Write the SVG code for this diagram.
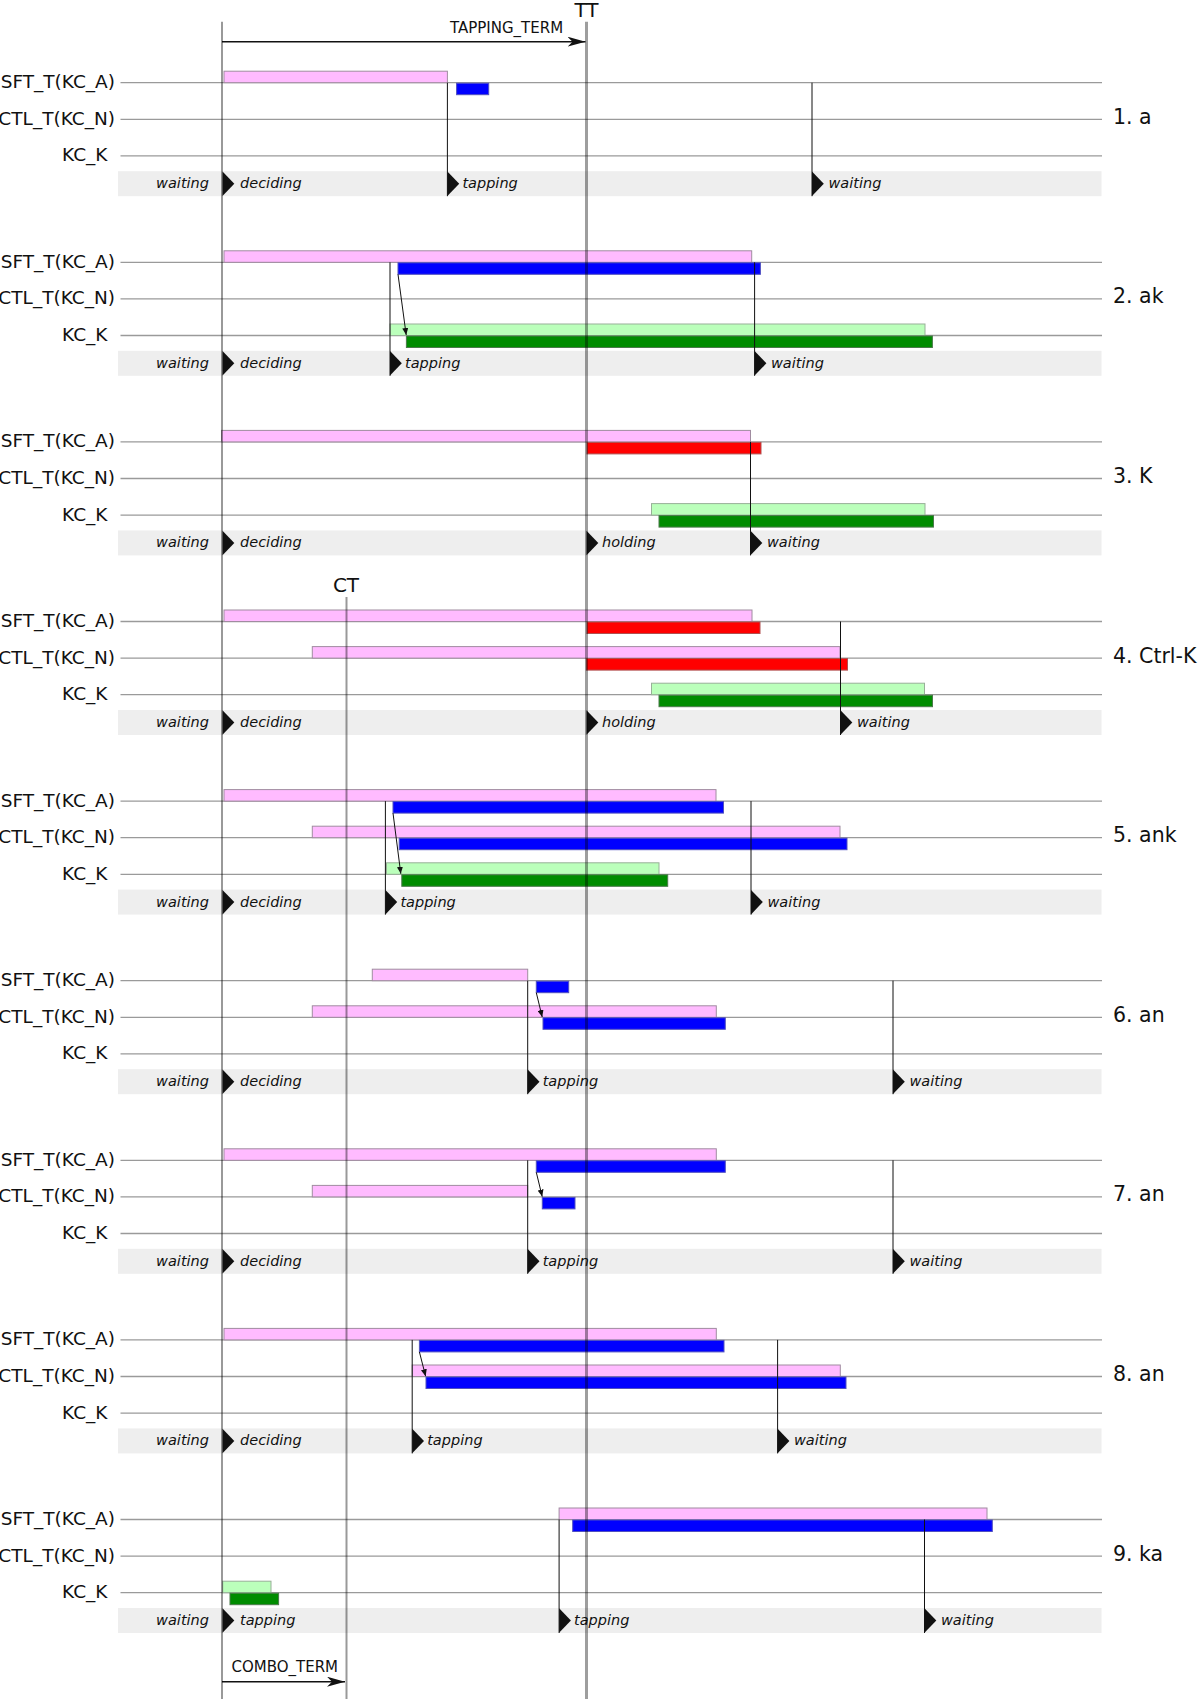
<svg xmlns="http://www.w3.org/2000/svg" width="1200" height="1699" viewBox="0 0 1200 1699">
<style>
.row{stroke:#9a9a9a;stroke-width:1.3}
.band{fill:#eeeeee}
.lbl{font-family:"DejaVu Sans",Verdana,sans-serif;font-size:18.5px;text-anchor:end;fill:#111}
.ttl{font-family:"DejaVu Sans",Verdana,sans-serif;font-size:20px;fill:#111}
.pl{font-family:"DejaVu Sans",Verdana,sans-serif;font-size:20.5px;fill:#111}
.st{font-family:"DejaVu Sans",Verdana,sans-serif;font-style:italic;font-size:14.5px;fill:#111}
.term{font-family:"DejaVu Sans",Verdana,sans-serif;font-size:15px;fill:#111}
.pk{fill:#ffbbff;stroke:#a08ca0;stroke-width:1}
.bl{fill:#0000ff;stroke:#5050c0;stroke-width:1}
.rd{fill:#ff0000;stroke:#b05050;stroke-width:1}
.lg{fill:#bbffbb;stroke:#98b098;stroke-width:1}
.dg{fill:#008c00;stroke:#4a7a4a;stroke-width:1}
.vl{stroke:#111;stroke-width:1}
.mk{fill:#111}
.ar{stroke:#111;stroke-width:1;marker-end:url(#ah)}
.guide{stroke:#000;stroke-opacity:0.4;stroke-width:2;fill:none}
.tt{stroke:#000;stroke-opacity:0.38;stroke-width:3;fill:none}
.tarr{stroke:#111;stroke-width:1.5;marker-end:url(#big)}
</style>
<defs>
<marker id="ah" markerUnits="userSpaceOnUse" markerWidth="8" markerHeight="6" refX="7" refY="3" orient="auto"><path d="M0,0 L7,3 L0,6 z" fill="#111"/></marker>
<marker id="big" markerUnits="userSpaceOnUse" markerWidth="19" markerHeight="11" refX="18" refY="5" orient="auto"><path d="M0,0 L18,5 L0,10 L5,5 z" fill="#111"/></marker>
<g id="rows">
<rect class="band" x="118" y="88.5" width="983.5" height="25"/>
<line class="row" x1="120.5" y1="0" x2="1102" y2="0"/>
<line class="row" x1="120.5" y1="36.6" x2="1102" y2="36.6"/>
<line class="row" x1="120.5" y1="73.2" x2="1102" y2="73.2"/>
<text class="lbl" x="115" y="5.5">SFT_T(KC_A)</text>
<text class="lbl" x="115" y="42.1">CTL_T(KC_N)</text>
<text class="lbl" x="107.5" y="78.7">KC_K</text>
<text class="st" x="209" y="105.5" text-anchor="end">waiting</text>
</g>
<path id="tri" class="mk" d="M0,88.8 L11.8,101 L0,113.3 z"/>
</defs>

<g id="panel1" transform="translate(0,82.7)">
<use href="#rows"/>
<rect class="pk" x="224" y="-11.5" width="223.4" height="11.5"/>
<rect class="bl" x="456.6" y="0.5" width="32.1" height="11.5"/>
<line class="vl" x1="447.4" y1="0" x2="447.4" y2="113.5"/>
<line class="vl" x1="812" y1="0" x2="812" y2="113.5"/>
<use href="#tri" x="222.5"/><use href="#tri" x="447.4"/><use href="#tri" x="812"/>
<text class="st" x="240" y="105.5">deciding</text>
<text class="st" x="462.4" y="105.5">tapping</text>
<text class="st" x="828.5" y="105.5">waiting</text>
<text class="pl" x="1113" y="41">1. a</text>
</g>

<g id="panel2" transform="translate(0,262.3)">
<use href="#rows"/>
<rect class="pk" x="224" y="-11.5" width="527.7" height="11.5"/>
<rect class="bl" x="398" y="0.5" width="362.4" height="11.5"/>
<rect class="lg" x="390" y="61.7" width="535" height="11.5"/>
<rect class="dg" x="406.4" y="73.7" width="526" height="11.5"/>
<line class="vl" x1="390" y1="0" x2="390" y2="113.5"/>
<line class="vl" x1="754.6" y1="0" x2="754.6" y2="113.5"/>
<use href="#tri" x="222.5"/><use href="#tri" x="390"/><use href="#tri" x="754.6"/>
<text class="st" x="240" y="105.5">deciding</text>
<text class="st" x="405" y="105.5">tapping</text>
<text class="st" x="771" y="105.5">waiting</text>
<text class="pl" x="1113" y="41">2. ak</text>
</g>

<g id="panel3" transform="translate(0,441.9)">
<use href="#rows"/>
<rect class="pk" x="221.5" y="-11.5" width="529" height="11.5"/>
<rect class="rd" x="587" y="0.5" width="174" height="11.5"/>
<rect class="lg" x="651.5" y="61.7" width="273.5" height="11.5"/>
<rect class="dg" x="659" y="73.7" width="274.5" height="11.5"/>
<line class="vl" x1="750.5" y1="0" x2="750.5" y2="113.5"/>
<use href="#tri" x="222.5"/><use href="#tri" x="586.5"/><use href="#tri" x="750.5"/>
<text class="st" x="240" y="105.5">deciding</text>
<text class="st" x="602" y="105.5">holding</text>
<text class="st" x="767" y="105.5">waiting</text>
<text class="pl" x="1113" y="41">3. K</text>
</g>

<g id="panel4" transform="translate(0,621.5)">
<use href="#rows"/>
<rect class="pk" x="224" y="-11.5" width="528" height="11.5"/>
<rect class="rd" x="587" y="0.5" width="173" height="11.5"/>
<rect class="pk" x="312.3" y="25.1" width="527.7" height="11.5"/>
<rect class="rd" x="586.4" y="37.1" width="261.1" height="11.5"/>
<rect class="lg" x="651.5" y="61.7" width="273" height="11.5"/>
<rect class="dg" x="659" y="73.7" width="273.5" height="11.5"/>
<line class="vl" x1="840.5" y1="0" x2="840.5" y2="113.5"/>
<use href="#tri" x="222.5"/><use href="#tri" x="586.5"/><use href="#tri" x="840.5"/>
<text class="st" x="240" y="105.5">deciding</text>
<text class="st" x="602" y="105.5">holding</text>
<text class="st" x="857" y="105.5">waiting</text>
<text class="pl" x="1113" y="41">4. Ctrl-K</text>
</g>

<g id="panel5" transform="translate(0,801.1)">
<use href="#rows"/>
<rect class="pk" x="224" y="-11.5" width="492" height="11.5"/>
<rect class="bl" x="393" y="0.5" width="330.5" height="11.5"/>
<rect class="pk" x="312.3" y="25.1" width="527.7" height="11.5"/>
<rect class="bl" x="399.2" y="37.1" width="447.8" height="11.5"/>
<rect class="lg" x="386.5" y="61.7" width="272.5" height="11.5"/>
<rect class="dg" x="401.8" y="73.7" width="265.9" height="11.5"/>
<line class="vl" x1="385.4" y1="0" x2="385.4" y2="113.5"/>
<line class="vl" x1="751" y1="0" x2="751" y2="113.5"/>
<use href="#tri" x="222.5"/><use href="#tri" x="385.4"/><use href="#tri" x="751"/>
<text class="st" x="240" y="105.5">deciding</text>
<text class="st" x="400.4" y="105.5">tapping</text>
<text class="st" x="767.5" y="105.5">waiting</text>
<text class="pl" x="1113" y="41">5. ank</text>
</g>

<g id="panel6" transform="translate(0,980.7)">
<use href="#rows"/>
<rect class="pk" x="372.3" y="-11.5" width="155.4" height="11.5"/>
<rect class="bl" x="536.3" y="0.5" width="32.4" height="11.5"/>
<rect class="pk" x="312.3" y="25.1" width="404" height="11.5"/>
<rect class="bl" x="543" y="37.1" width="182.3" height="11.5"/>
<line class="vl" x1="527.7" y1="0" x2="527.7" y2="113.5"/>
<line class="vl" x1="893" y1="0" x2="893" y2="113.5"/>
<use href="#tri" x="222.5"/><use href="#tri" x="527.7"/><use href="#tri" x="893"/>
<text class="st" x="240" y="105.5">deciding</text>
<text class="st" x="542.7" y="105.5">tapping</text>
<text class="st" x="909.5" y="105.5">waiting</text>
<text class="pl" x="1113" y="41">6. an</text>
</g>

<g id="panel7" transform="translate(0,1160.3)">
<use href="#rows"/>
<rect class="pk" x="224" y="-11.5" width="492.3" height="11.5"/>
<rect class="bl" x="536.3" y="0.5" width="189" height="11.5"/>
<rect class="pk" x="312.3" y="25.1" width="215.4" height="11.5"/>
<rect class="bl" x="542.3" y="37.1" width="32.7" height="11.5"/>
<line class="vl" x1="527.7" y1="0" x2="527.7" y2="113.5"/>
<line class="vl" x1="893" y1="0" x2="893" y2="113.5"/>
<use href="#tri" x="222.5"/><use href="#tri" x="527.7"/><use href="#tri" x="893"/>
<text class="st" x="240" y="105.5">deciding</text>
<text class="st" x="542.7" y="105.5">tapping</text>
<text class="st" x="909.5" y="105.5">waiting</text>
<text class="pl" x="1113" y="41">7. an</text>
</g>

<g id="panel8" transform="translate(0,1339.9)">
<use href="#rows"/>
<rect class="pk" x="224" y="-11.5" width="492.3" height="11.5"/>
<rect class="bl" x="419.4" y="0.5" width="304.6" height="11.5"/>
<rect class="pk" x="412.2" y="25.1" width="428.1" height="11.5"/>
<rect class="bl" x="426" y="37.1" width="420" height="11.5"/>
<line class="vl" x1="412.2" y1="0" x2="412.2" y2="113.5"/>
<line class="vl" x1="777.6" y1="0" x2="777.6" y2="113.5"/>
<use href="#tri" x="222.5"/><use href="#tri" x="412.2"/><use href="#tri" x="777.6"/>
<text class="st" x="240" y="105.5">deciding</text>
<text class="st" x="427.2" y="105.5">tapping</text>
<text class="st" x="794" y="105.5">waiting</text>
<text class="pl" x="1113" y="41">8. an</text>
</g>

<g id="panel9" transform="translate(0,1519.5)">
<use href="#rows"/>
<rect class="pk" x="559.1" y="-11.5" width="427.9" height="11.5"/>
<rect class="bl" x="572.7" y="0.5" width="419.6" height="11.5"/>
<rect class="lg" x="222.7" y="61.7" width="48.3" height="11.5"/>
<rect class="dg" x="230" y="73.7" width="48.6" height="11.5"/>
<line class="vl" x1="559.1" y1="0" x2="559.1" y2="113.5"/>
<line class="vl" x1="924.5" y1="0" x2="924.5" y2="113.5"/>
<use href="#tri" x="222.5"/><use href="#tri" x="559.1"/><use href="#tri" x="924.5"/>
<text class="st" x="240" y="105.5">tapping</text>
<text class="st" x="574" y="105.5">tapping</text>
<text class="st" x="941" y="105.5">waiting</text>
<text class="pl" x="1113" y="41">9. ka</text>
</g>

<g id="connectors">
<line class="ar" x1="398" y1="274.3" x2="406.2" y2="335"/>
<line class="ar" x1="393" y1="813.1" x2="400.8" y2="873.8"/>
<line class="ar" x1="536.3" y1="992.7" x2="542.2" y2="1017"/>
<line class="ar" x1="536.3" y1="1172.3" x2="542.2" y2="1196.6"/>
<line class="ar" x1="419.4" y1="1351.9" x2="425.6" y2="1376.2"/>
<line class="tarr" x1="222" y1="41.7" x2="585.5" y2="41.7"/>
<line class="tarr" x1="222" y1="1681.7" x2="345" y2="1681.7"/>
</g>

<g id="guides">
<line class="guide" x1="222" y1="21.7" x2="222" y2="1699"/>
<line class="tt" x1="586.5" y1="21.7" x2="586.5" y2="1699"/>
<line class="guide" x1="346.5" y1="597" x2="346.5" y2="1699"/>
<text class="ttl" x="586.5" y="17" text-anchor="middle">TT</text>
<text class="ttl" x="346" y="591.7" text-anchor="middle">CT</text>
<text class="term" x="450" y="33.3">TAPPING_TERM</text>
<text class="term" x="231.5" y="1672.3">COMBO_TERM</text>
</g>
</svg>
